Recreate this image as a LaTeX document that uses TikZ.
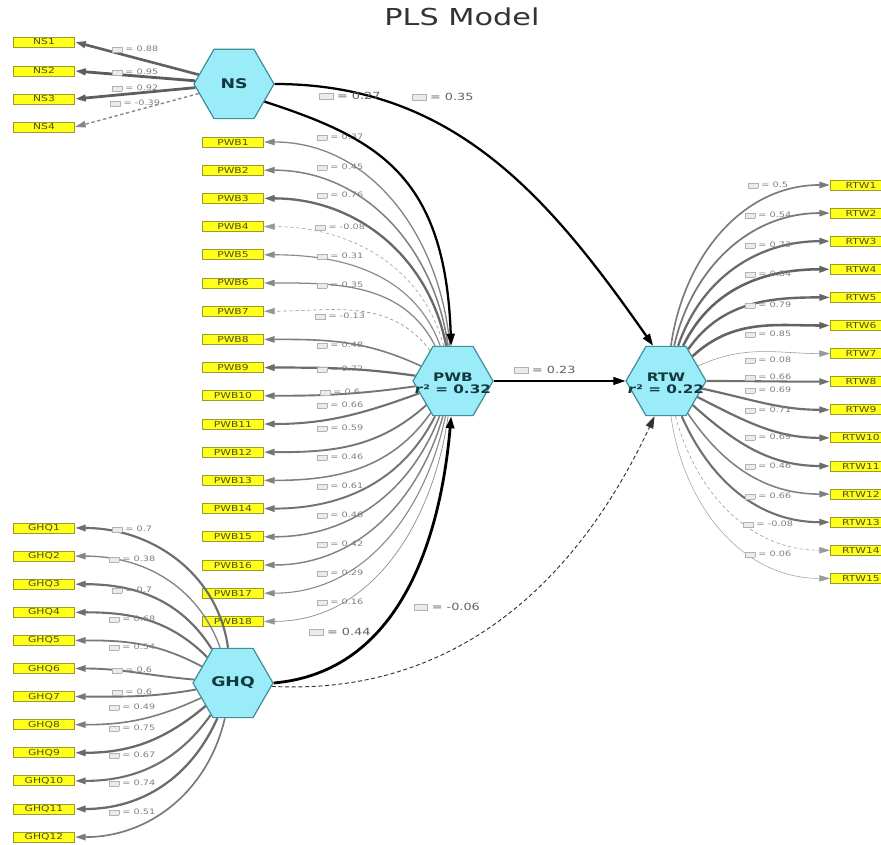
\documentclass[tikz,border=0pt]{standalone}
\usepackage{fontspec}
\setmainfont[FakeStretch=1.3]{DejaVu Sans}
\usetikzlibrary{arrows.meta,shapes.geometric}

\definecolor{latfill}{HTML}{9AECF8}
\definecolor{latdraw}{HTML}{3F8E98}
\definecolor{lattext}{HTML}{143840}
\definecolor{indfill}{HTML}{FFFF1A}
\definecolor{inddraw}{HTML}{9A9A2E}
\definecolor{indtext}{HTML}{50501A}

% small grey coefficient box in front of each value
\newcommand\cbx{{\setlength\fboxsep{0pt}\setlength\fboxrule{0.3pt}\fcolorbox{black!30}{black!8}{\rule{0pt}{0.6em}\rule{1.3em}{0pt}}}}

% width, grey level and dash of a loading arrow from its value
\newcommand\setload[1]{%
  \pgfmathsetmacro\lw{0.75*(0.35+2.6*abs(#1))}%
  \pgfmathsetmacro\gr{int(38+28*abs(#1))}%
  \ifdim #1pt<0pt \tikzset{lsty/.style={dash pattern=on 2.5pt off 2pt}}%
  \else \tikzset{lsty/.style={}}\fi}

\begin{document}
\begin{tikzpicture}[x=0.75pt,y=0.75pt,
  latent/.style={regular polygon, regular polygon sides=6, minimum size=60pt,
    inner sep=0pt, fill=latfill, draw=latdraw, line width=0.9pt},
  latbig/.style={font=\bfseries\fontsize{10}{11}\selectfont, text=lattext},
  latsmall/.style={font=\bfseries\fontsize{8.8}{9.5}\selectfont, text=lattext, align=center},
  ind/.style={rectangle, fill=indfill, draw=inddraw, line width=0.6pt,
    minimum width=46pt, minimum height=7.5pt, inner sep=0pt,
    font=\fontsize{6.2}{7}\selectfont, text=indtext},
  ldlabel/.style={font=\fontsize{5.6}{6.5}\selectfont, text=black!50, inner sep=0pt},
  pathlabel/.style={font=\fontsize{7.4}{8.5}\selectfont, text=black!62, inner sep=0pt},
  loading/.style={-{Triangle[length=8pt,width=4.8pt]}},
  structural/.style={draw=black, -{Triangle[length=9pt,width=6pt]}},
  lsty/.style={}]

\fill[white] (0,0) rectangle (881,845);
\useasboundingbox (0,0) rectangle (881,845);

\node[font=\fontsize{17.5}{20}\selectfont, text=black!80] (title) at (462,828) {PLS Model};

% latent variables
\node[latent] (ns)  at (234,761) {};
\node[latent] (pwb) at (453,464) {};
\node[latent] (rtw) at (666,464) {};
\node[latent] (ghq) at (233,162) {};
\node[latbig] (nst) at (ns) {NS};
\node[latbig] (ghqt) at (ghq) {GHQ};
\node[latsmall] (pwbt) at (453,462) {PWB\\[-0.5pt]\textit{r}² = 0.32};
\node[latsmall] (rtwt) at (666,462) {RTW\\[-0.5pt]\textit{r}² = 0.22};

% indicators
\foreach \k/\yy in {1/803,2/774,3/746,4/718}
  \node[ind] (ns\k) at (44,\yy) {NS\k};
\foreach \k in {1,...,18}{
  \pgfmathsetmacro\yy{703-(\k-1)*28.2}
  \node[ind] (pwb\k) at (233,\yy) {PWB\k};}
\foreach \k in {1,...,12}{
  \pgfmathsetmacro\yy{317-(\k-1)*28.1}
  \node[ind] (ghq\k) at (44,\yy) {GHQ\k};}
\foreach \k in {1,...,15}{
  \pgfmathsetmacro\yy{660-(\k-1)*28.1}
  \node[ind] (rtw\k) at (861,\yy) {RTW\k};}

% NS loadings
\foreach \k/\v/\ly in {1/0.88/49, 2/0.95/72, 3/0.92/88, 4/-0.39/103}{
  \setload{\v}
  \draw[loading, lsty, line width=\lw pt, draw=black!\gr] (ns) -- (ns\k.east);
  \node[ldlabel] at (135,{845-\ly}) {\cbx\ = \v};}

% PWB loadings
\foreach \k/\v/\ly/\o in {1/0.37/137/95, 2/0.45/167/98, 3/0.76/195/101,
    4/-0.08/227/105, 5/0.31/256/110, 6/0.35/285/117, 7/-0.13/316/127,
    8/0.48/345/155, 9/0.72/369/172, 10/0.6/392/188, 11/0.66/405/200,
    12/0.59/428/222, 13/0.46/457/235, 14/0.61/486/243, 15/0.46/515/249,
    16/0.42/544/254, 17/0.29/573/258, 18/0.16/602/262}{
  \setload{\v}
  \draw[loading, lsty, line width=\lw pt, draw=black!\gr] (pwb) to[out=\o,in=0] (pwb\k.east);
  \node[ldlabel] at (340,{845-\ly}) {\cbx\ = \v};}

% GHQ loadings
\foreach \k/\v/\ly/\o in {1/0.7/529/98, 2/0.38/559/110, 3/0.7/590/122,
    4/0.68/619/135, 5/0.54/647/152, 6/0.6/670/175, 7/0.6/692/190,
    8/0.49/707/205, 9/0.75/728/220, 10/0.67/755/235, 11/0.74/783/246,
    12/0.51/812/257}{
  \setload{\v}
  \draw[loading, lsty, line width=\lw pt, draw=black!\gr] (ghq) to[out=\o,in=0] (ghq\k.east);
  \node[ldlabel] at (132,{845-\ly}) {\cbx\ = \v};}

% RTW loadings
\foreach \k/\v/\ly/\o in {1/0.5/185/82, 2/0.54/215/77, 3/0.73/245/71,
    4/0.84/274/64, 5/0.79/305/55, 6/0.85/334/43, 7/0.08/360/25,
    8/0.66/377/0, 9/0.69/390/-12, 10/0.71/410/-27, 11/0.69/437/-42,
    12/0.46/466/-56, 13/0.66/496/-66, 14/-0.08/524/-75, 15/0.06/554/-82}{
  \setload{\v}
  \draw[loading, lsty, line width=\lw pt, draw=black!\gr] (rtw) to[out=\o,in=180] (rtw\k.west);
  \node[ldlabel] at (768,{845-\ly}) {\cbx\ = \v};}

% structural paths
\draw[structural, line width=1.7pt] (ns.-30) .. controls +(-18:120) and +(92:170) .. (pwb.93);
\draw[structural, line width=1.7pt] (ns.east) to[out=0,in=125] (rtw.110);
\draw[structural, line width=0.9pt] (pwb) -- (rtw);
\draw[structural, line width=2.1pt] (ghq.east) to[out=5,in=-95] (pwb.-93);
\draw[structural, line width=0.7pt, draw=black!80, dash pattern=on 3pt off 2pt]
  (ghq.-5) to[out=-3,in=245] (rtw.-108);

\node[pathlabel] (l1) at (350,749) {\cbx\ = 0.27};
\node[pathlabel] (l2) at (443,748) {\cbx\ = 0.35};
\node[pathlabel] (l3) at (545,475) {\cbx\ = 0.23};
\node[pathlabel] (l4) at (447,238) {\cbx\ = -0.06};
\node[pathlabel] (l5) at (340,213) {\cbx\ = 0.44};
\end{tikzpicture}
\end{document}
